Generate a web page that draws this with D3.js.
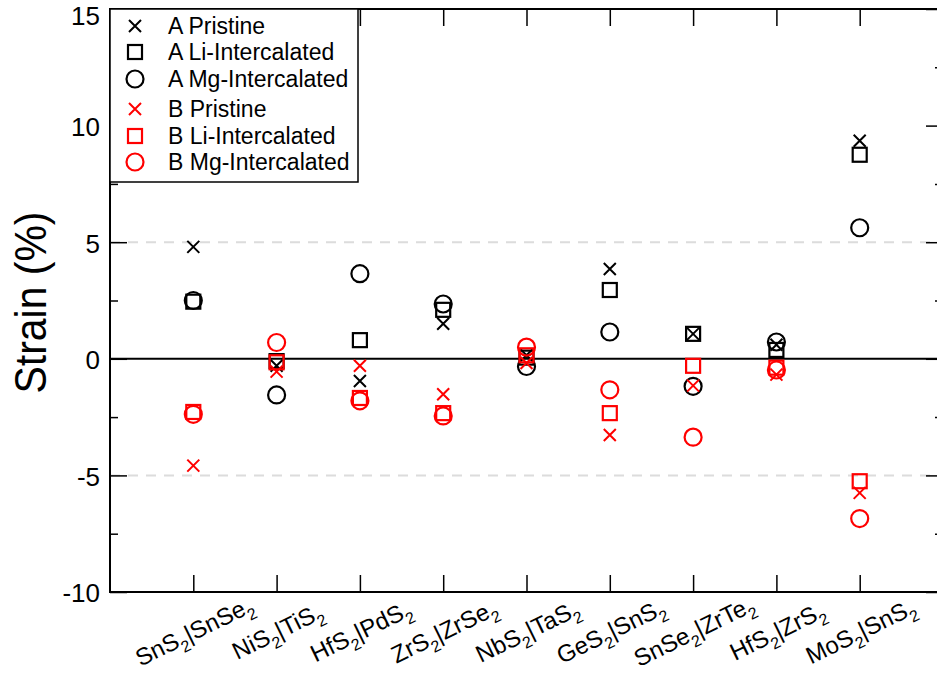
<!DOCTYPE html>
<html>
<head>
<meta charset="utf-8">
<script src="https://cdn.jsdelivr.net/npm/d3@7"></script>
<style>
  body { margin: 0; background: #fff; }
  svg { display: block; font-family: "Liberation Sans", Arial, sans-serif; }
</style>
</head>
<body>
<svg id="chart" width="937" height="674"></svg>
<script>
// heterostructure pairs, [first, second] formula parts with subscripts
const pairs = [
    ["SnS", "SnSe"], ["NiS", "TiS"], ["HfS", "PdS"], ["ZrS", "ZrSe"], ["NbS", "TaS"],
    ["GeS", "SnS"], ["SnSe", "ZrTe"], ["HfS", "ZrS"], ["MoS", "SnS"]
];

// strain (%) per pair
const aPristine = [4.8, -0.3, -0.95, 1.5, 0.15, 3.85, 1.07, 0.6, 9.35];
const aLi       = [2.45, -0.1, 0.8, 2.1, 0.05, 2.95, 1.07, 0.38, 8.75];
const aMg       = [2.5, -1.55, 3.65, 2.35, -0.33, 1.15, -1.18, 0.72, 5.62];
const bPristine = [-4.58, -0.55, -0.3, -1.52, -0.18, -3.27, -1.15, -0.68, -5.75];
const bLi       = [-2.28, -0.15, -1.68, -2.33, 0.15, -2.33, -0.3, -0.38, -5.25];
const bMg       = [-2.38, 0.7, -1.8, -2.45, 0.5, -1.33, -3.36, -0.48, -6.85];

const yTicks = [-10, -5, 0, 5, 10, 15];
const yMinorTicks = [-7.5, -2.5, 2.5, 7.5, 12.5];
const gridValues = [-5, 5];

const series = [
    { name: "A Pristine", values: aPristine, shape: "x", color: "#000" },
    { name: "A Li-Intercalated", values: aLi, shape: "square", color: "#000" },
    { name: "A Mg-Intercalated", values: aMg, shape: "circle", color: "#000" },
    { name: "B Pristine", values: bPristine, shape: "x", color: "#ff0000" },
    { name: "B Li-Intercalated", values: bLi, shape: "square", color: "#ff0000" },
    { name: "B Mg-Intercalated", values: bMg, shape: "circle", color: "#ff0000" }
];

const svg = d3.select("#chart");
const plotLeft = 110, plotRight = 943, plotTop = 9, plotBottom = 592;

const x = d3.scaleLinear().domain([0, pairs.length + 1]).range([plotLeft, plotRight]);
const y = d3.scaleLinear().domain([-10, 15]).range([plotBottom, plotTop]);

// dashed guides at +-5
svg.append("g").selectAll("line").data(gridValues).join("line")
    .attr("x1", plotLeft).attr("x2", plotRight)
    .attr("y1", d => y(d)).attr("y2", d => y(d))
    .attr("stroke", "#dcdcdc").attr("stroke-width", 2)
    .attr("stroke-dasharray", "10,8");

// zero line
svg.append("line")
    .attr("x1", plotLeft).attr("x2", plotRight)
    .attr("y1", y(0)).attr("y2", y(0))
    .attr("stroke", "#000").attr("stroke-width", 2);

// frame with inward ticks
const xTickVals = d3.range(1, pairs.length + 1);
function inwardAxis(gen, tx, ty, size, vals) {
    const g = svg.append("g").attr("transform", `translate(${tx},${ty})`)
        .call(gen.tickValues(vals).tickSize(size).tickFormat(""));
    g.select(".domain").remove();
    g.selectAll(".tick line").attr("stroke", "#000").attr("stroke-width", 1.5);
    return g;
}
inwardAxis(d3.axisBottom(x), 0, plotBottom, -17, xTickVals);
inwardAxis(d3.axisTop(x), 0, plotTop, -17, xTickVals);
inwardAxis(d3.axisLeft(y), plotLeft, 0, -17, yTicks);
inwardAxis(d3.axisLeft(y), plotLeft, 0, -8, yMinorTicks);
inwardAxis(d3.axisRight(y), plotRight, 0, -17, yTicks);
inwardAxis(d3.axisRight(y), plotRight, 0, -8, yMinorTicks);

svg.append("rect")
    .attr("x", plotLeft).attr("y", plotTop)
    .attr("width", plotRight - plotLeft).attr("height", plotBottom - plotTop)
    .attr("fill", "none").attr("stroke", "#000").attr("stroke-width", 2);

// y tick labels (top one nudged down so it stays inside the page)
svg.append("g").selectAll("text").data(yTicks).join("text")
    .attr("x", plotLeft - 10).attr("y", d => y(d) + (d === 15 ? 6 : 0))
    .attr("dy", "0.4em")
    .attr("text-anchor", "end")
    .attr("font-size", 26)
    .text(d => d);

// y title
svg.append("text")
    .attr("transform", `translate(46,${(plotTop + plotBottom) / 2 + 2}) rotate(-90)`)
    .attr("text-anchor", "middle")
    .attr("font-size", 44)
    .attr("textLength", 182)
    .attr("lengthAdjust", "spacingAndGlyphs")
    .text("Strain (%)");

// x tick labels with subscripts
const xl = svg.append("g").selectAll("text").data(pairs).join("text")
    .attr("transform", (d, i) => `translate(${x(i + 1) + 1},${631}) rotate(-26)`)
    .attr("text-anchor", "middle")
    .attr("dy", "0.35em")
    .attr("font-size", 24);
xl.each(function(d) {
    const t = d3.select(this);
    t.append("tspan").text(d[0]);
    t.append("tspan").attr("font-size", 16).attr("dy", 7).text("2");
    t.append("tspan").attr("dy", -7).text("|" + d[1]);
    t.append("tspan").attr("font-size", 16).attr("dy", 7).text("2");
});

// marker drawing
function drawMarker(g, shape, color) {
    if (shape === "x") {
        g.append("path").attr("d", "M-6,-6L6,6M-6,6L6,-6")
            .attr("stroke", color).attr("stroke-width", 2).attr("fill", "none");
    } else if (shape === "square") {
        g.append("rect").attr("x", -7).attr("y", -7).attr("width", 14).attr("height", 14)
            .attr("stroke", color).attr("stroke-width", 2.2).attr("fill", "none");
    } else {
        g.append("circle").attr("r", 8.5)
            .attr("stroke", color).attr("stroke-width", 2.2).attr("fill", "none");
    }
}

series.forEach(s => {
    svg.append("g").selectAll("g").data(s.values).join("g")
        .attr("transform", (d, i) => `translate(${x(i + 1)},${y(d)})`)
        .each(function() { drawMarker(d3.select(this), s.shape, s.color); });
});

// legend
const legendRows = [26, 52, 79, 109, 136, 162];
const legend = svg.append("g");
legend.append("rect")
    .attr("x", plotLeft).attr("y", plotTop).attr("width", 248).attr("height", 173)
    .attr("fill", "#fff").attr("stroke", "#000").attr("stroke-width", 1.5);
series.forEach((s, i) => {
    const row = legend.append("g").attr("transform", `translate(135,${legendRows[i]})`);
    drawMarker(row, s.shape, s.color);
    row.append("text").attr("x", 33).attr("dy", "0.36em")
        .attr("font-size", 23).text(s.name);
});
</script>
</body>
</html>
